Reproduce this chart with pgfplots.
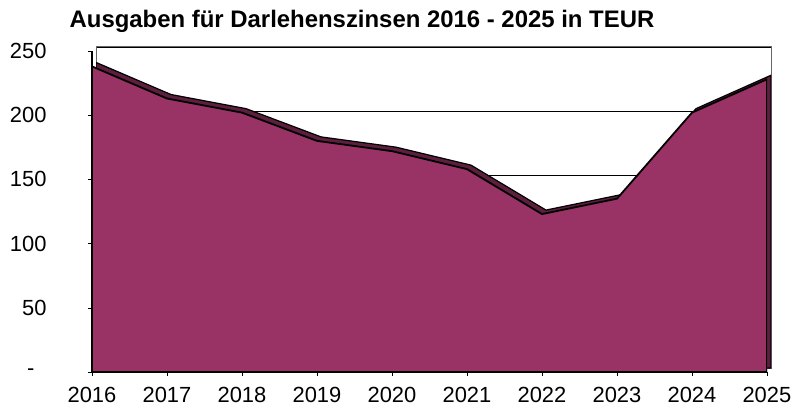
\documentclass[border=0pt]{standalone}
\usepackage{fontspec}
\setmainfont{Liberation Sans}
\usepackage{pgfplots}
\pgfplotsset{compat=1.18}
\definecolor{plum}{HTML}{993366}
\pgfplotstableread{
year val
2016 238
2017 213
2018 202
2019 180
2020 172
2021 158
2022 123
2023 135
2024 202
2025 228
}\datatable
\begin{document}
\begin{tikzpicture}[x=1bp,y=1bp]
\useasboundingbox (0,0) rectangle (791,410);
\node[anchor=base, font=\bfseries\fontsize{24}{28}\selectfont] at (362,383) {Ausgaben für Darlehenszinsen 2016 - 2025 in TEUR};
% back wall with grid and ridge
\begin{axis}[
  at={(96bp,42bp)}, anchor=south west,
  scale only axis, width=675bp, height=321bp,
  xmin=2016, xmax=2025, ymin=0, ymax=250,
  xtick=\empty, ytick={50,100,150,200,250}, yticklabels={},
  major tick length=0pt,
  ymajorgrids, grid style={black, line width=1.3bp},
  axis line style={line width=1bp, black!60},
]
\addplot[fill=plum!60!black, draw=black, line width=1.2bp] table[x=year,y=val]{\datatable} \closedcycle;
\end{axis}
% front
\begin{axis}[
  at={(92bp,38bp)}, anchor=south west,
  scale only axis, width=675bp, height=321bp,
  xmin=2016, xmax=2025, ymin=0, ymax=250,
  axis x line=bottom, axis y line=left,
  axis line style={-, line width=1.5bp, black},
  tick align=outside, major tick length=4bp,
  tick style={black, line width=0.6bp},
  xtick={2016,2017,...,2025},
  xticklabels={2016,2017,2018,2019,2020,2021,2022,2023,2024,2025},
  ytick={0,50,100,150,200,250},
  yticklabels={{-\hspace*{12bp}},50,100,150,200,250},
  tick label style={font=\fontsize{22}{26}\selectfont},
  yticklabel style={anchor=east, xshift=-38bp},
  xticklabel style={anchor=north, inner sep=0pt, text depth=0pt, yshift=-11bp},
]
\addplot[fill=plum, draw=black, line width=1.8bp] table[x=year,y=val]{\datatable} \closedcycle;
\end{axis}
\end{tikzpicture}
\end{document}
